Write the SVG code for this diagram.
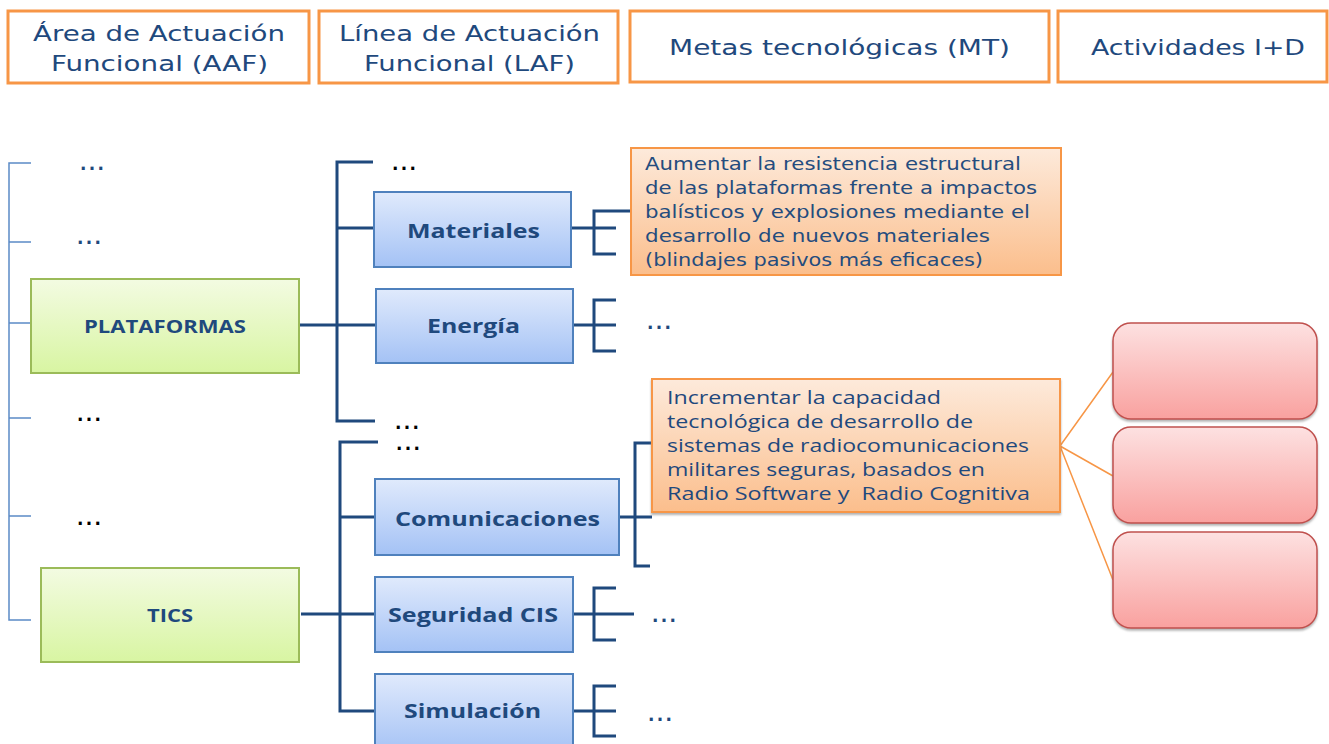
<svg xmlns="http://www.w3.org/2000/svg" width="1329" height="744" viewBox="0 0 1329 744">
  <defs>
    <linearGradient id="gBlue" x1="0" y1="0" x2="0" y2="1">
      <stop offset="0" stop-color="#E0EAFC"/>
      <stop offset="1" stop-color="#A4C2F5"/>
    </linearGradient>
    <linearGradient id="gGreen" x1="0" y1="0" x2="0" y2="1">
      <stop offset="0" stop-color="#F3FBE2"/>
      <stop offset="1" stop-color="#D8F5A2"/>
    </linearGradient>
    <linearGradient id="gOrange" x1="0" y1="0" x2="0" y2="1">
      <stop offset="0" stop-color="#FDEADB"/>
      <stop offset="1" stop-color="#FBBE8C"/>
    </linearGradient>
    <linearGradient id="gPink" x1="0" y1="0" x2="0" y2="1">
      <stop offset="0" stop-color="#FDE1E1"/>
      <stop offset="1" stop-color="#F9A19F"/>
    </linearGradient>
    <filter id="shadow" x="-5%" y="-5%" width="110%" height="115%">
      <feDropShadow dx="0" dy="2" stdDeviation="1" flood-color="#808080" flood-opacity="0.6"/>
    </filter>
  </defs>
  <style>
    .hdr { fill: #FFFFFF; stroke: #F79646; stroke-width: 3; }
    .htxt { font-family: "DejaVu Sans", Verdana, sans-serif; font-size: 22px; fill: #1F497D; }
    .blue { fill: url(#gBlue); stroke: #4F81BD; stroke-width: 2; }
    .green { fill: url(#gGreen); stroke: #9BBB59; stroke-width: 2; }
    .mt { fill: url(#gOrange); stroke: #F79646; stroke-width: 2; }
    .act { fill: url(#gPink); stroke: #C0504D; stroke-width: 1.5; }
    .lbl { font-family: "Open Sans", "DejaVu Sans", sans-serif; font-weight: bold; font-size: 20px; fill: #1F497D; }
    .lbls { font-family: "Open Sans", "DejaVu Sans", sans-serif; font-weight: bold; font-size: 17px; fill: #1F497D; }
    .mt1 { font-family: "DejaVu Sans", Verdana, sans-serif; font-size: 17px; fill: #244C7E; }
    .mt2 { font-family: "Open Sans", "Liberation Sans", sans-serif; font-size: 17.5px; fill: #1F497D; }
    .br { fill: none; stroke: #1F497D; stroke-width: 3; }
    .thin { fill: none; stroke: #5B8AC6; stroke-width: 1.5; }
    .orl { fill: none; stroke: #F79646; stroke-width: 1.5; }
    .dotb { font-family: "DejaVu Sans", sans-serif; font-weight: bold; font-size: 17px; fill: #000000; }
    .dotu { font-family: "DejaVu Sans", sans-serif; font-weight: bold; font-size: 17px; fill: #1F497D; }
  </style>

  <rect width="1329" height="744" fill="#FFFFFF"/>

  <!-- Header -->
  <g id="hdr-aaf">
    <rect class="hdr" x="8" y="11" width="301" height="72"/>
    <text class="htxt" x="33" y="41" textLength="252" lengthAdjust="spacingAndGlyphs">Área de Actuación</text>
    <text class="htxt" x="51" y="71" textLength="217" lengthAdjust="spacingAndGlyphs">Funcional (AAF)</text>
  </g>
  <g id="hdr-laf">
    <rect class="hdr" x="319" y="11" width="299" height="72"/>
    <text class="htxt" x="339" y="41" textLength="261" lengthAdjust="spacingAndGlyphs">Línea de Actuación</text>
    <text class="htxt" x="364" y="71" textLength="211" lengthAdjust="spacingAndGlyphs">Funcional (LAF)</text>
  </g>
  <g id="hdr-mt">
    <rect class="hdr" x="630" y="11" width="419" height="71"/>
    <text class="htxt" x="669" y="55" textLength="341" lengthAdjust="spacingAndGlyphs">Metas tecnológicas (MT)</text>
  </g>
  <g id="hdr-act">
    <rect class="hdr" x="1058" y="11" width="269" height="71"/>
    <text class="htxt" x="1091" y="55" textLength="214" lengthAdjust="spacingAndGlyphs">Actividades I+D</text>
  </g>

  <!-- Connectors -->
  <g id="connectors">
    <path class="thin" d="M31,163 H9 V620 H31 M9,242 H31 M9,323 H31 M9,418 H31 M9,516 H31"/>
    <path class="br" d="M299,325 H337 M373,162 H337 V421 H375 M337,228 H374 M337,325 H376"/>
    <path class="br" d="M571,228 H594 M630,211 H594 V254 H616 M594,228 H616"/>
    <path class="br" d="M573,325 H594 M616,300 H594 V351 H616 M594,325 H616"/>
    <path class="br" d="M301,614 H340 M378,442 H340 V711 H375 M340,517 H375 M340,614 H375"/>
    <path class="br" d="M619,517 H652 M652,443 H635 V566 H650"/>
    <path class="br" d="M573,614 H634 M616,588 H594 V640 H616"/>
    <path class="br" d="M573,711 H616 M616,686 H594 V736 H616"/>
    <path class="orl" d="M1060,446 L1113,372 M1060,446 L1113,476 M1060,446 L1113,580"/>
  </g>

  <!-- AAF nodes -->
  <g id="n-plataformas">
    <rect class="green" x="31" y="279" width="268" height="94"/>
    <text class="lbls" x="84" y="333" textLength="162" lengthAdjust="spacingAndGlyphs">PLATAFORMAS</text>
  </g>
  <g id="n-tics">
    <rect class="green" x="41" y="568" width="258" height="94"/>
    <text class="lbls" x="147" y="622" textLength="46" lengthAdjust="spacingAndGlyphs">TICS</text>
  </g>

  <!-- LAF nodes -->
  <g id="n-materiales">
    <rect class="blue" x="374" y="192" width="197" height="75"/>
    <text class="lbl" x="407" y="238" textLength="133" lengthAdjust="spacingAndGlyphs">Materiales</text>
  </g>
  <g id="n-energia">
    <rect class="blue" x="376" y="289" width="197" height="74"/>
    <text class="lbl" x="427" y="333" textLength="93" lengthAdjust="spacingAndGlyphs">Energía</text>
  </g>
  <g id="n-comunicaciones">
    <rect class="blue" x="375" y="479" width="244" height="76"/>
    <text class="lbl" x="395" y="526" textLength="205" lengthAdjust="spacingAndGlyphs">Comunicaciones</text>
  </g>
  <g id="n-seguridad">
    <rect class="blue" x="375" y="577" width="198" height="75"/>
    <text class="lbl" x="388" y="622" textLength="170" lengthAdjust="spacingAndGlyphs">Seguridad CIS</text>
  </g>
  <g id="n-simulacion">
    <rect class="blue" x="375" y="674" width="198" height="80"/>
    <text class="lbl" x="404" y="718" textLength="137" lengthAdjust="spacingAndGlyphs">Simulación</text>
  </g>

  <!-- MT nodes -->
  <g id="n-mt1">
    <rect class="mt" x="631" y="148" width="430" height="127"/>
    <text class="mt1" x="645" y="170" textLength="376" lengthAdjust="spacingAndGlyphs">Aumentar la resistencia estructural</text>
    <text class="mt1" x="645" y="194" textLength="392" lengthAdjust="spacingAndGlyphs">de las plataformas frente a impactos</text>
    <text class="mt1" x="645" y="218" textLength="385" lengthAdjust="spacingAndGlyphs">balísticos y explosiones mediante el</text>
    <text class="mt1" x="645" y="242" textLength="345" lengthAdjust="spacingAndGlyphs">desarrollo de nuevos materiales</text>
    <text class="mt1" x="645" y="266" textLength="338" lengthAdjust="spacingAndGlyphs">(blindajes pasivos más eficaces)</text>
  </g>
  <g id="n-mt2">
    <rect class="mt" x="652" y="379" width="408" height="133" filter="url(#shadow)"/>
    <text class="mt2" x="667" y="404" textLength="274" lengthAdjust="spacingAndGlyphs">Incrementar la capacidad</text>
    <text class="mt2" x="667" y="428" textLength="306" lengthAdjust="spacingAndGlyphs">tecnológica de desarrollo de</text>
    <text class="mt2" x="667" y="452" textLength="362" lengthAdjust="spacingAndGlyphs">sistemas de radiocomunicaciones</text>
    <text class="mt2" x="667" y="476" textLength="318" lengthAdjust="spacingAndGlyphs">militares seguras, basados en</text>
    <text class="mt2" x="667" y="500" textLength="363" lengthAdjust="spacingAndGlyphs" xml:space="preserve">Radio Software y  Radio Cognitiva</text>
  </g>

  <!-- Activity nodes -->
  <g id="n-act1">
    <rect class="act" x="1113" y="323" width="204" height="96" rx="18" ry="18" filter="url(#shadow)"/>
  </g>
  <g id="n-act2">
    <rect class="act" x="1113" y="427" width="204" height="96" rx="18" ry="18" filter="url(#shadow)"/>
  </g>
  <g id="n-act3">
    <rect class="act" x="1113" y="532" width="204" height="96" rx="18" ry="18" filter="url(#shadow)"/>
  </g>

  <!-- Ellipses -->
  <g id="ellipses">
    <text class="dotu" x="80" y="170" textLength="24" lengthAdjust="spacing">...</text>
    <text class="dotu" x="77" y="244" textLength="24" lengthAdjust="spacing">...</text>
    <text class="dotb" x="77" y="421" textLength="24" lengthAdjust="spacing">...</text>
    <text class="dotb" x="77" y="525" textLength="24" lengthAdjust="spacing">...</text>
    <text class="dotb" x="392" y="170" textLength="24" lengthAdjust="spacing">...</text>
    <text class="dotb" x="395" y="429" textLength="24" lengthAdjust="spacing">...</text>
    <text class="dotb" x="396" y="450" textLength="24" lengthAdjust="spacing">...</text>
    <text class="dotu" x="647" y="329" textLength="24" lengthAdjust="spacing">...</text>
    <text class="dotu" x="652" y="622" textLength="24" lengthAdjust="spacing">...</text>
    <text class="dotu" x="648" y="721" textLength="24" lengthAdjust="spacing">...</text>
  </g>
</svg>
